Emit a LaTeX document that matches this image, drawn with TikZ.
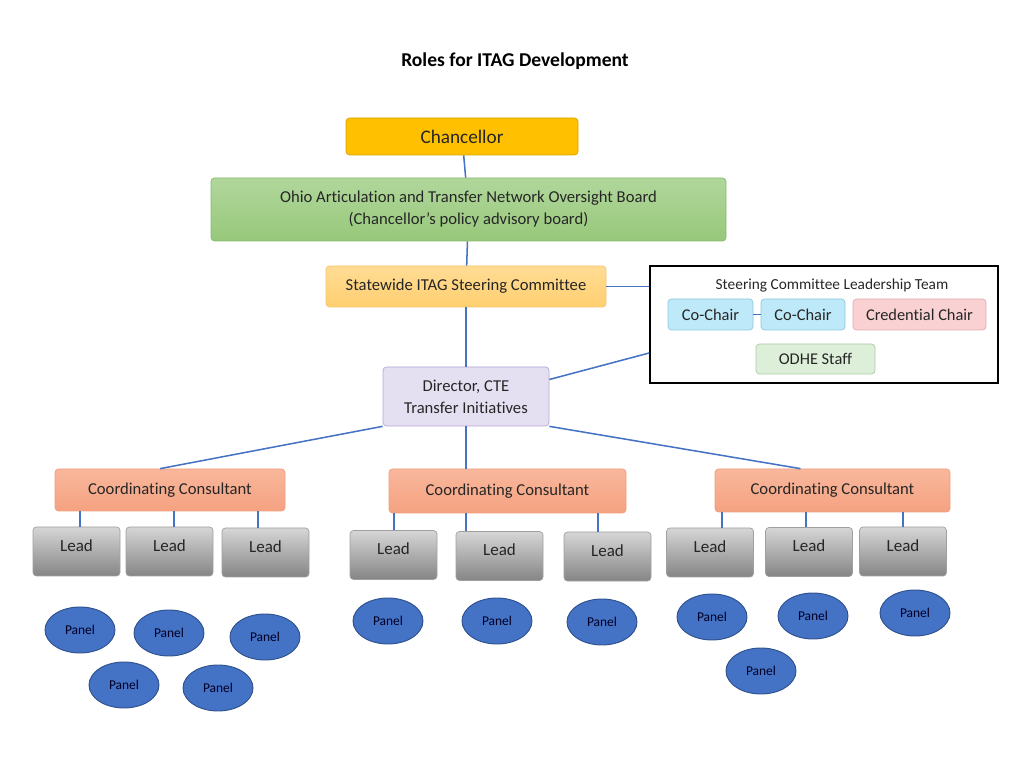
\documentclass[tikz,border=0pt]{standalone}
\usepackage{fontspec}
\setmainfont{Carlito}[Ligatures=NoCommon]
\usetikzlibrary{shapes.geometric}
\definecolor{linkblue}{HTML}{4472C4}
\definecolor{chancfill}{HTML}{FFC000}
\definecolor{chancdraw}{HTML}{D9A300}
\definecolor{boardtop}{HTML}{B1D79C}
\definecolor{boardbot}{HTML}{97C87A}
\definecolor{boarddraw}{HTML}{86B96B}
\definecolor{steertop}{HTML}{FFDC94}
\definecolor{steerbot}{HTML}{FFCF70}
\definecolor{steerdraw}{HTML}{F2C46E}
\definecolor{dirfill}{HTML}{E5DFF2}
\definecolor{dirdraw}{HTML}{B3A8D3}
\definecolor{cctop}{HTML}{F9B79C}
\definecolor{ccbot}{HTML}{F5A280}
\definecolor{ccdraw}{HTML}{EE9E7E}
\definecolor{chairfill}{HTML}{BEE9F9}
\definecolor{chairdraw}{HTML}{8DC6DE}
\definecolor{credfill}{HTML}{F9D1D2}
\definecolor{creddraw}{HTML}{DFA9AC}
\definecolor{odhefill}{HTML}{DDEFD9}
\definecolor{odhedraw}{HTML}{A6CDA0}
\definecolor{leadtop}{HTML}{D6D6D6}
\definecolor{leadbot}{HTML}{858585}
\definecolor{leaddraw}{HTML}{A0A0A0}
\definecolor{panelfill}{HTML}{4472C4}
\definecolor{paneldraw}{HTML}{2F528F}
\definecolor{inktext}{HTML}{262626}
\newcommand{\px}{0.03cm}

\tikzset{
  orgbox/.style={draw, rounded corners=3pt, line width=0.6pt, align=center,
    inner sep=0pt, text=inktext, font=\fontsize{14.2}{18.8}\selectfont},
  chancbox/.style={orgbox, fill=chancfill, draw=chancdraw,
    minimum width=232*\px, minimum height=37*\px, font=\fontsize{16.4}{19}\selectfont},
  boardbox/.style={orgbox, top color=boardtop, bottom color=boardbot, draw=boarddraw,
    minimum width=515*\px, minimum height=63*\px},
  steerbox/.style={orgbox, top color=steertop, bottom color=steerbot, draw=steerdraw,
    minimum width=280*\px, minimum height=41*\px},
  dirbox/.style={orgbox, fill=dirfill, draw=dirdraw,
    minimum width=166*\px, minimum height=59*\px},
  ccbox/.style={orgbox, top color=cctop, bottom color=ccbot, draw=ccdraw,
    minimum width=235*\px, minimum height=43*\px},
  teambox/.style={draw=black, line width=1.4pt, inner sep=0pt,
    minimum width=348*\px, minimum height=117*\px},
  chairbox/.style={orgbox, minimum height=31*\px, font=\fontsize{14}{16}\selectfont},
  leadbox/.style={orgbox, top color=leadtop, bottom color=leadbot, draw=leaddraw,
    minimum width=87*\px, minimum height=49*\px, text depth=2.2ex,
    font=\fontsize{14.5}{16}\selectfont},
  panel/.style={ellipse, draw=paneldraw, fill=panelfill, line width=0.8pt,
    minimum width=70*\px, minimum height=46*\px, inner sep=0pt,
    text=black!85!blue, font=\fontsize{11.5}{13}\selectfont},
  link/.style={draw=linkblue, line width=1.3pt}
}

\begin{document}
\begin{tikzpicture}[x=0.03cm, y=-0.03cm]
\useasboundingbox (0,0) rectangle (1024,768);

% Title
\node[font=\bfseries\fontsize{16.7}{19}\selectfont] (title) at (515,61) {Roles for ITAG Development};

% Upper chain
\node[chancbox] (chanc) at (462,136.5) {Chancellor};
\node[boardbox] (board) at (468.5,209.5) {Ohio Articulation and Transfer Network Oversight Board\\(Chancellor’s policy advisory board)};
\node[steerbox] (steer) at (466,286.5) {Statewide ITAG Steering Committee};
\node[dirbox] (dir) at (466,396.5) {Director, CTE\\Transfer Initiatives};

% Leadership team
\node[teambox] (team) at (824,324.5) {};
\node[text=inktext, font=\fontsize{13.1}{15}\selectfont] (teamtitle) at (832,285) {Steering Committee Leadership Team};
\node[chairbox, fill=chairfill, draw=chairdraw, minimum width=85*\px] (chairA) at (710.5,314.5) {Co-Chair};
\node[chairbox, fill=chairfill, draw=chairdraw, minimum width=84*\px] (chairB) at (803,314.5) {Co-Chair};
\node[chairbox, fill=credfill, draw=creddraw, minimum width=133*\px] (cred) at (919.5,314.5) {Credential Chair};
\node[chairbox, fill=odhefill, draw=odhedraw, minimum width=119*\px, minimum height=30*\px] (odhe) at (815.5,359) {ODHE Staff};

% Coordinating consultants
\node[ccbox, minimum width=230*\px, minimum height=42*\px] (ccA) at (170,490) {Coordinating Consultant};
\node[ccbox, minimum width=237*\px, minimum height=44*\px] (ccB) at (507.5,491) {Coordinating Consultant};
\node[ccbox] (ccC) at (832.5,490.5) {Coordinating Consultant};

% Leads
\foreach \n/\x/\y in {leadA1/76.5/551.5, leadA2/169.5/551.5, leadA3/265.5/552.5,
                      leadB1/393.5/555, leadB2/499.5/556, leadB3/607.5/556.5,
                      leadC1/710/552.5, leadC2/809/552, leadC3/903/551.5}
  \node[leadbox] (\n) at (\x,\y) {Lead};

% Panels
\foreach \n/\x/\y in {panA1/80/630, panA2/169/633, panA3/265/637, panA4/124/685, panA5/218/688,
                      panB1/388/621, panB2/497/621, panB3/602/622,
                      panC1/712/617, panC2/813/616, panC3/915/613, panC4/761/671}
  \node[panel] (\n) at (\x,\y) {Panel};

% Connectors
\path[link] (chanc) -- (board);
\path[link] (board) -- (steer);
\path[link] (steer) -- (dir);
\path[link] (dir) -- (ccB.north -| dir.south);
\path[link] (steer.east) -- (team.west |- steer.east);
\path[link] ([yshift=17*\px]dir.east) -- ([yshift=-28.5*\px]team.west);
\path[link] (dir.south west) -- ([xshift=-10*\px]ccA.north);
\path[link] (dir.south east) -- ([xshift=-32*\px]ccC.north);
\path[link] (chairA.east) -- (chairB.west);
\foreach \c/\l/\dx in {ccA/leadA1/3.5, ccA/leadA2/4.5, ccA/leadA3/-7.5,
                       ccB/leadB1/0.5, ccB/leadB2/-33.5, ccB/leadB3/-9.5,
                       ccC/leadC1/12, ccC/leadC2/-3, ccC/leadC3/0}
  \path[link] ([xshift=\dx*\px]\l.north) -- ([xshift=\dx*\px]\l.north |- \c.south);
\end{tikzpicture}
\end{document}
